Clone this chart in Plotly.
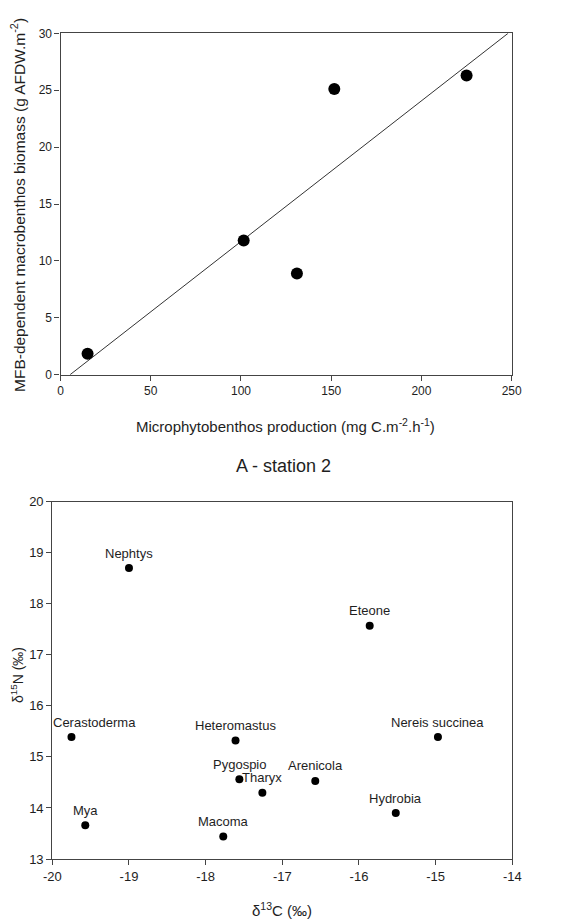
import plotly.graph_objects as go

# --- Top panel data ---
mpb_production = [15, 101.5, 131, 151.7, 225]
mfb_biomass = [1.85, 11.8, 8.9, 25.1, 26.3]
fit_x = [5.3, 248]
fit_y = [0, 30]

# --- Bottom panel data ---
species = ["Nephtys", "Eteone", "Cerastoderma", "Heteromastus", "Nereis succinea",
           "Pygospio", "Tharyx", "Arenicola", "Hydrobia", "Mya", "Macoma"]
d13c = [-19.0, -15.86, -19.75, -17.61, -14.97, -17.56, -17.26, -16.57, -15.52, -19.57, -17.77]
d15n = [18.7, 17.57, 15.39, 15.32, 15.39, 14.56, 14.3, 14.53, 13.9, 13.66, 13.44]
label_xshift = [0, 0, 23, 0, 0, 0, 0, 0, 0, 0, 0]

top_xticks = [0, 50, 100, 150, 200, 250]
top_yticks = [0, 5, 10, 15, 20, 25, 30]
bot_xticks = [-20, -19, -18, -17, -16, -15, -14]
bot_yticks = [13, 14, 15, 16, 17, 18, 19, 20]

FONT = "Liberation Sans, Arial, sans-serif"
TXT = "#1e1e1e"
LINE = "#444444"
OFF = 8  # page body margin
W, H = 571 - OFF, 921 - OFF


def fx(px):
    return (px - OFF) / W


def fy(py):
    return 1 - (py - OFF) / H


fig = go.Figure()

fig.add_trace(go.Scatter(x=fit_x, y=fit_y, mode="lines",
                         line=dict(color="#333333", width=1),
                         xaxis="x", yaxis="y", showlegend=False))
fig.add_trace(go.Scatter(x=mpb_production, y=mfb_biomass, mode="markers",
                         marker=dict(color="black", size=12),
                         xaxis="x", yaxis="y", showlegend=False))
fig.add_trace(go.Scatter(x=d13c, y=d15n, mode="markers",
                         marker=dict(color="black", size=8),
                         xaxis="x2", yaxis="y2", showlegend=False))

annotations = []
for name, x, y, xs in zip(species, d13c, d15n, label_xshift):
    annotations.append(dict(x=x, y=y, xref="x2", yref="y2", text=name,
                            showarrow=False, yshift=15, xshift=xs,
                            font=dict(family=FONT, size=13, color=TXT)))


def paper_note(text, px, py, size, angle=0):
    return dict(x=fx(px), y=fy(py), xref="paper", yref="paper", text=text,
                showarrow=False, textangle=angle, xanchor="center", yanchor="middle",
                font=dict(family=FONT, size=size, color=TXT))


annotations += [
    paper_note("A - station 2", 283, 466, 18),
    paper_note("Microphytobenthos production (mg C.m<sup>-2</sup>.h<sup>-1</sup>)", 285, 425, 15),
    paper_note("MFB-dependent macrobenthos biomass (g AFDW.m<sup>-2</sup>)", 18, 205, 15.5, -90),
    paper_note("δ<sup>15</sup>N (‰)", 17, 675, 14, -90),
    paper_note("δ<sup>13</sup>C (‰)", 282, 909, 15),
]

axis_common = dict(showgrid=False, zeroline=False, showline=True, mirror=True,
                   linecolor=LINE, linewidth=1.2, ticks="outside", ticklen=5,
                   tickcolor=LINE, automargin=False, tickmode="array")

fig.update_layout(
    width=W, height=H,
    margin=dict(l=0, r=0, t=0, b=0),
    paper_bgcolor="white", plot_bgcolor="white",
    font=dict(family=FONT, color=TXT),
    xaxis=dict(domain=[fx(60.5), fx(511.7)], anchor="y", range=[0, 250],
               tickvals=top_xticks, ticktext=[str(v) for v in top_xticks],
               tickfont=dict(family=FONT, size=12, color=TXT), **axis_common),
    yaxis=dict(domain=[fy(374.7), fy(33.3)], anchor="x", range=[0, 30],
               tickvals=top_yticks, ticktext=[str(v) for v in top_yticks],
               tickfont=dict(family=FONT, size=12, color=TXT), **axis_common),
    xaxis2=dict(domain=[fx(52.3), fx(512.3)], anchor="y2", range=[-20, -14],
                tickvals=bot_xticks, ticktext=[str(v) for v in bot_xticks],
                tickfont=dict(family=FONT, size=13, color=TXT), **axis_common),
    yaxis2=dict(domain=[fy(859), fy(501.7)], anchor="x2", range=[13, 20],
                tickvals=bot_yticks, ticktext=[str(v) for v in bot_yticks],
                tickfont=dict(family=FONT, size=13, color=TXT), **axis_common),
    annotations=annotations,
)

fig.write_html("out.html")
